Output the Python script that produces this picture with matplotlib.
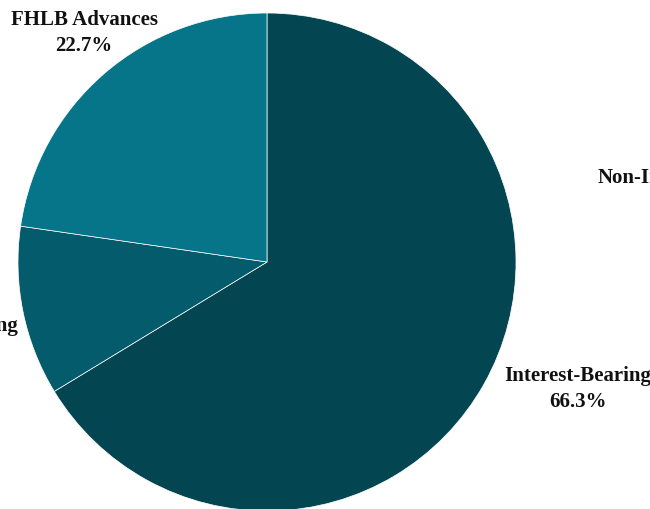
import matplotlib
matplotlib.use("Agg")
import matplotlib.pyplot as plt

# Funding mix
categories = ["Interest-Bearing", "Non-Interest-Bearing", "FHLB Advances"]
shares = [66.3, 11.0, 22.7]
colors = ["#034651", "#045b6b", "#067489"]

W, H = 650, 510
fig = plt.figure(figsize=(W / 100, H / 100), dpi=100)
ax = fig.add_axes([0, 0, 1, 1])

ax.pie(shares, colors=colors, startangle=90, counterclock=False,
       center=(267, H - 263), radius=249,
       wedgeprops=dict(edgecolor="white", linewidth=0.5))
ax.set_xlim(0, W)
ax.set_ylim(0, H)
ax.set_aspect("equal")
ax.axis("off")

font = dict(family="Liberation Serif", fontweight="bold", fontsize=15,
            color="#111111")

# Slice labels: name over percentage
label_pos = {
    "Interest-Bearing": (578, H - 389),
    "FHLB Advances": (84, H - 33),
    "Non-Interest-Bearing": (-77, H - 339),
}
for name, val in zip(categories, shares):
    x, y = label_pos[name]
    ax.text(x, y, f"{name}\n{val:.1f}%", ha="center", va="center",
            linespacing=1.42, clip_on=False, **font)

# Neighbouring panel's label
ax.text(598, H - 178, "Non-Interest-Bearing", ha="left", va="center",
        clip_on=False, **font)

fig.savefig("out.png", dpi=100)
